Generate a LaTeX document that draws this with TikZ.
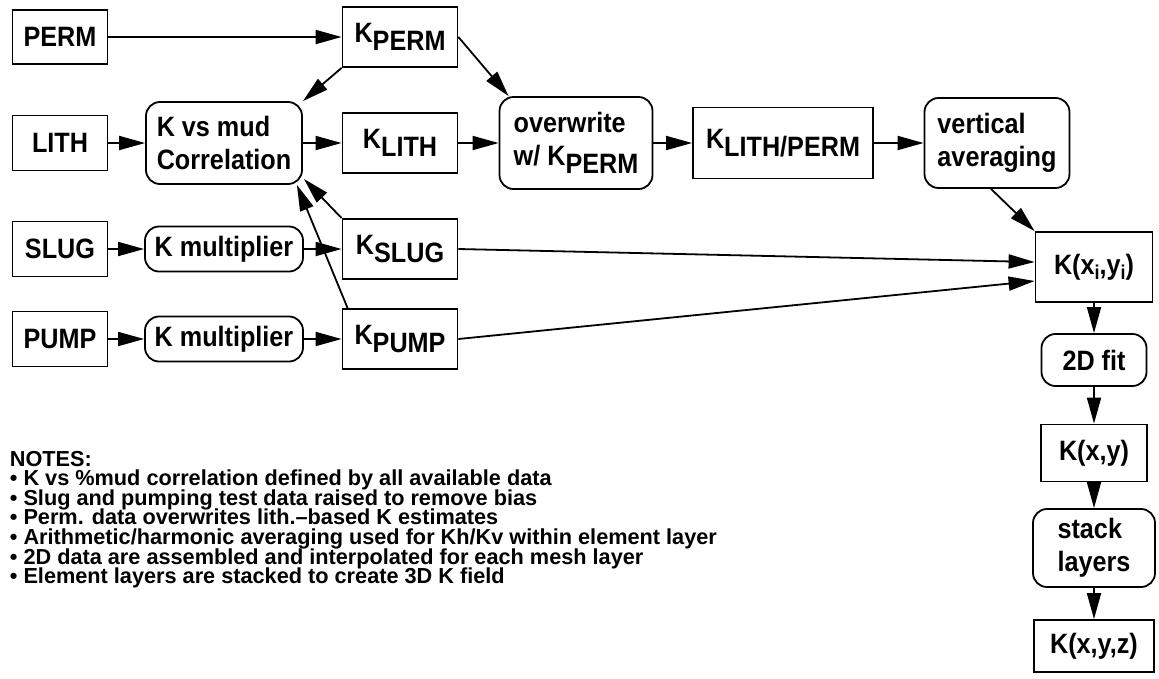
\documentclass[tikz,border=0pt]{standalone}
\usepackage{fontspec}
\setmainfont{Liberation Sans}[FakeStretch=0.9]
\newfontfamily\notesfam{Liberation Sans}
\usepackage{tikz}
\usetikzlibrary{arrows.meta}

\newcommand{\boxfont}{\fontsize{28}{33}\selectfont\bfseries}
\newcommand{\notefont}{\notesfam\fontsize{21.7}{19.6}\selectfont\bfseries\lineskiplimit=-30pt}
\newcommand{\lowsub}[1]{\raisebox{-8pt}{#1}}
\newcommand{\idx}{\raisebox{-5pt}{\fontsize{20}{20}\selectfont i}}

\tikzset{
  sqbox/.style={draw, line width=1.8pt, inner sep=0pt, align=left, font=\boxfont},
  rndbox/.style={sqbox, rounded corners=14pt},
}

\begin{document}
\begin{tikzpicture}[x=1pt,y=1pt,>={Triangle[length=26pt,width=14pt]},line width=1.8pt,node distance=106pt]
            \useasboundingbox (0,0) rectangle (1159,-678);

            % input data
            \node[sqbox, minimum width=95pt, minimum height=54pt] (PERM) at (60,-37) {PERM};
            \node[sqbox, minimum width=95pt, minimum height=55pt] (LITH) [below of=PERM] {LITH};
            \node[sqbox, minimum width=95pt, minimum height=55pt] (SLUG) [below of=LITH] {SLUG};
            \node[sqbox, minimum width=95pt, minimum height=55pt] (PUMP) [below of=SLUG, node distance=90pt] {PUMP};

            % conversions
            \node[rndbox, minimum width=156pt, minimum height=82pt] (KMUD) [right of=LITH, node distance=164pt] {K vs mud\\Correlation};
            \node[rndbox, minimum width=158pt, minimum height=45pt] (MULTS) [right of=SLUG, node distance=164pt] {K multiplier};
            \node[rndbox, minimum width=158pt, minimum height=45pt] (MULTP) [right of=PUMP, node distance=164pt] {K multiplier};

            % K estimates
            \node[sqbox, minimum width=115pt, minimum height=60pt] (KPERM) [right of=PERM, node distance=340pt] {K\lowsub{PERM}};
            \node[sqbox, minimum width=115pt, minimum height=60pt] (KLITH) [below of=KPERM] {K\lowsub{LITH}};
            \node[sqbox, minimum width=115pt, minimum height=60pt] (KSLUG) [below of=KLITH] {K\lowsub{SLUG}};
            \node[sqbox, minimum width=115pt, minimum height=60pt] (KPUMP) [below of=KSLUG, node distance=90pt] {K\lowsub{PUMP}};

            % merging
            \node[rndbox, minimum width=153pt, minimum height=92pt] (OVER) [right of=KLITH, node distance=176pt] {overwrite\\w/ K\lowsub{PERM}};
            \node[sqbox, minimum width=180pt, minimum height=71pt] (KLP) [right of=OVER, node distance=207pt] {K\lowsub{LITH/PERM}};
            \node[rndbox, minimum width=145pt, minimum height=90pt] (VAVG) [right of=KLP, node distance=214pt] {vertical\\averaging};

            % output chain
            \node[sqbox, minimum width=117pt, minimum height=70pt] (KXIYI) at (1094,-267) {K(x\idx,y\idx)};
            \node[rndbox, minimum width=105pt, minimum height=52pt] (FIT) [below of=KXIYI, node distance=93pt] {2D fit};
            \node[sqbox, minimum width=106pt, minimum height=57pt] (KXY) [below of=FIT, node distance=93pt] {K(x,y)};
            \node[rndbox, minimum width=122pt, minimum height=78pt] (STACK) [below of=KXY, node distance=95pt] {stack\\layers};
            \node[sqbox, minimum width=120pt, minimum height=52pt] (KXYZ) [below of=STACK, node distance=98pt] {K(x,y,z)};

            \path[->]
                (PERM) edge (KPERM)
                (KPERM.south west) edge (KMUD.north east)
                (KPERM.east) edge ([xshift=10pt]OVER.north west)
                (LITH) edge (KMUD)
                (KMUD) edge (KLITH)
                (KLITH) edge (OVER)
                (OVER) edge (KLP)
                (KLP) edge (VAVG)
                ([xshift=-6pt]VAVG.south) edge (KXIYI.north west)
                (SLUG) edge (MULTS)
                (MULTS) edge (KSLUG)
                (PUMP) edge (MULTP)
                (MULTP) edge (KPUMP)
                (KSLUG.north west) edge ([shift={(1pt,6pt)}]KMUD.south east)
                ([xshift=6pt]KPUMP.north west) edge ([xshift=-6pt]KMUD.south east)
                (KSLUG.east) edge ([yshift=5pt]KXIYI.west)
                (KPUMP.east) edge ([yshift=-14pt]KXIYI.west)
                (KXIYI) edge (FIT)
                (FIT) edge (KXY)
                (KXY) edge (STACK)
                (STACK) edge (KXYZ);

            % notes
            \node[anchor=north west, inner sep=0pt, align=left, font=\notefont] (NOTES) at (9,-450)
                {NOTES:\\
                 \textbullet\ K vs \%mud correlation defined by all available data\\
                 \textbullet\ Slug and pumping test data raised to remove bias\\
                 \textbullet\ Perm. data overwrites lith.–based K estimates\\
                 \textbullet\ Arithmetic/harmonic averaging used for Kh/Kv within element layer\\
                 \textbullet\ 2D data are assembled and interpolated for each mesh layer\\
                 \textbullet\ Element layers are stacked to create 3D K field};
\end{tikzpicture}
\end{document}
